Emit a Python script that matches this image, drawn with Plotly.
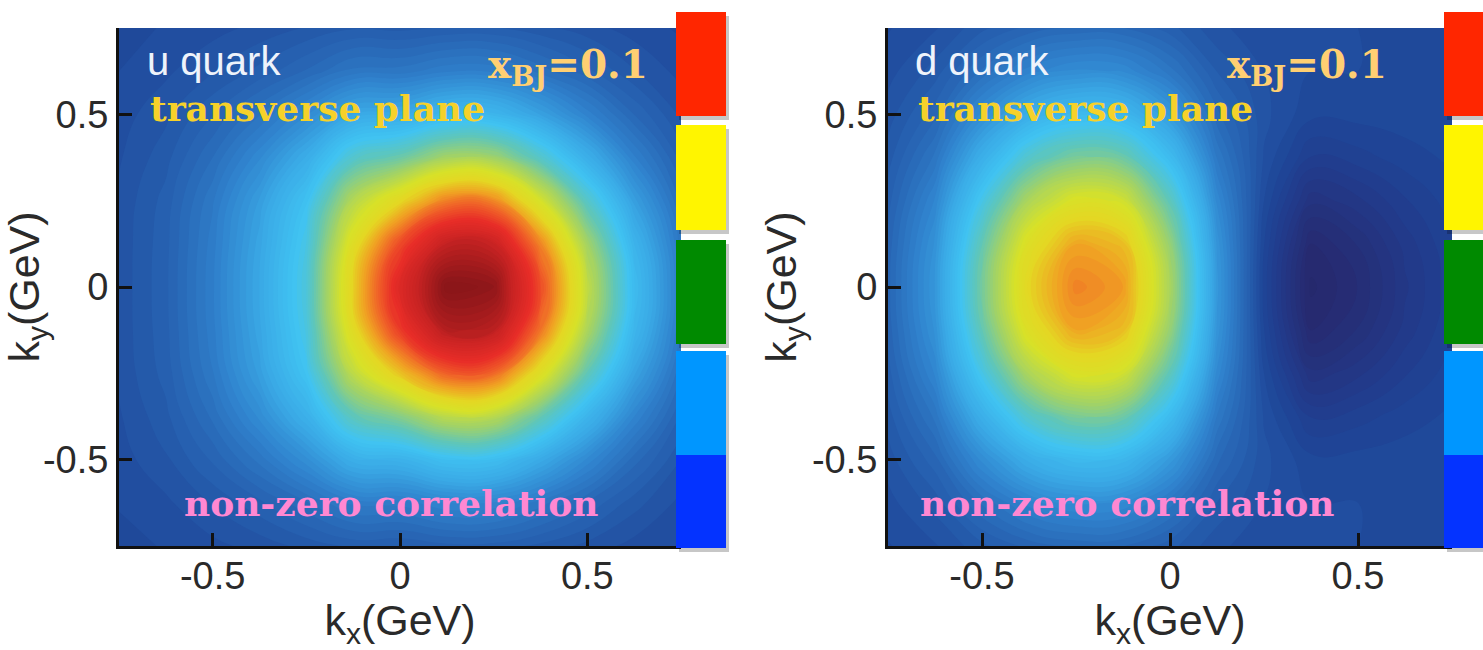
import plotly.graph_objects as go

W, H = 1483, 650

# grid coordinates (GeV)
KX = [-0.75, -0.625, -0.5, -0.375, -0.25, -0.125, 0.0, 0.125, 0.25, 0.375, 0.5, 0.625, 0.75]
KY = [-0.75, -0.625, -0.5, -0.375, -0.25, -0.125, 0.0, 0.125, 0.25, 0.375, 0.5, 0.625, 0.75]

# u quark density (rows: ky ascending, columns: kx ascending)
U_DENSITY = [
    [0.007, 0.012, 0.019, 0.027, 0.038, 0.048, 0.046, 0.053, 0.052, 0.042, 0.030, 0.018, 0.010],
    [0.012, 0.020, 0.035, 0.054, 0.078, 0.107, 0.108, 0.126, 0.124, 0.097, 0.067, 0.039, 0.019],
    [0.017, 0.032, 0.059, 0.096, 0.145, 0.214, 0.224, 0.265, 0.261, 0.202, 0.134, 0.074, 0.034],
    [0.021, 0.042, 0.083, 0.141, 0.220, 0.347, 0.398, 0.474, 0.468, 0.358, 0.232, 0.126, 0.055],
    [0.025, 0.050, 0.102, 0.177, 0.278, 0.477, 0.608, 0.729, 0.718, 0.547, 0.352, 0.187, 0.080],
    [0.026, 0.053, 0.110, 0.191, 0.302, 0.561, 0.779, 0.936, 0.922, 0.701, 0.448, 0.237, 0.099],
    [0.026, 0.054, 0.112, 0.196, 0.310, 0.590, 0.840, 1.010, 0.995, 0.756, 0.482, 0.254, 0.106],
    [0.026, 0.053, 0.109, 0.190, 0.299, 0.551, 0.758, 0.910, 0.897, 0.682, 0.436, 0.230, 0.097],
    [0.025, 0.050, 0.101, 0.174, 0.272, 0.461, 0.575, 0.689, 0.679, 0.518, 0.333, 0.178, 0.076],
    [0.021, 0.041, 0.080, 0.135, 0.209, 0.326, 0.367, 0.438, 0.431, 0.331, 0.215, 0.117, 0.052],
    [0.017, 0.031, 0.056, 0.090, 0.135, 0.195, 0.202, 0.239, 0.235, 0.182, 0.121, 0.068, 0.032],
    [0.011, 0.020, 0.033, 0.049, 0.070, 0.096, 0.097, 0.112, 0.111, 0.087, 0.060, 0.035, 0.018],
    [0.007, 0.012, 0.018, 0.026, 0.035, 0.044, 0.042, 0.047, 0.047, 0.037, 0.027, 0.017, 0.009],
]

# d quark density (rows: ky ascending, columns: kx ascending)
D_DENSITY = [
    [0.010, 0.021, 0.042, 0.061, 0.071, 0.069, 0.050, 0.025, 0.016, 0.013, 0.011, 0.008, 0.006],
    [0.018, 0.039, 0.082, 0.121, 0.141, 0.136, 0.097, 0.045, 0.022, 0.011, 0.011, 0.009, 0.007],
    [0.028, 0.064, 0.141, 0.212, 0.248, 0.238, 0.167, 0.072, 0.026, 0.003, 0.004, 0.006, 0.007],
    [0.040, 0.095, 0.216, 0.328, 0.385, 0.369, 0.255, 0.102, 0.021, -0.024, -0.017, -0.006, 0.002],
    [0.052, 0.128, 0.295, 0.451, 0.531, 0.508, 0.348, 0.134, 0.011, -0.066, -0.050, -0.025, -0.006],
    [0.061, 0.152, 0.355, 0.546, 0.643, 0.615, 0.418, 0.157, 0.000, -0.104, -0.080, -0.042, -0.013],
    [0.064, 0.161, 0.378, 0.582, 0.685, 0.655, 0.445, 0.165, -0.005, -0.119, -0.092, -0.049, -0.016],
    [0.061, 0.152, 0.355, 0.546, 0.643, 0.615, 0.418, 0.157, 0.000, -0.104, -0.080, -0.042, -0.013],
    [0.052, 0.128, 0.295, 0.451, 0.531, 0.508, 0.348, 0.134, 0.011, -0.066, -0.050, -0.025, -0.006],
    [0.040, 0.095, 0.216, 0.328, 0.385, 0.369, 0.255, 0.102, 0.021, -0.024, -0.017, -0.006, 0.002],
    [0.028, 0.064, 0.141, 0.212, 0.248, 0.238, 0.167, 0.072, 0.026, 0.003, 0.004, 0.006, 0.007],
    [0.018, 0.039, 0.082, 0.121, 0.141, 0.136, 0.097, 0.045, 0.022, 0.011, 0.011, 0.009, 0.007],
    [0.010, 0.021, 0.042, 0.061, 0.071, 0.069, 0.050, 0.025, 0.016, 0.013, 0.011, 0.008, 0.006],
]

TICK_VALS = [-0.5, 0, 0.5]
TICK_TEXT = ["-0.5", "0", "0.5"]
PANEL_LABELS = ["u quark", "d quark"]
XBJ_LABEL = "x<sub>BJ</sub>=0.1"
PLANE_LABEL = "transverse plane"
CORR_LABEL = "non-zero correlation"
BLOCK_COLORS = ["#FF2600", "#FFF500", "#008A00", "#0096FF", "#0433FF"]

ZMIN, ZMAX = -0.15, 1.0
COLOR_STOPS = [
    (-0.15, "rgb(36,36,100)"),
    (-0.10, "rgb(38,44,115)"),
    (-0.04, "rgb(34,58,138)"),
    (0.00, "rgb(30,70,152)"),
    (0.05, "rgb(38,95,175)"),
    (0.12, "rgb(48,130,205)"),
    (0.20, "rgb(58,170,230)"),
    (0.28, "rgb(64,195,242)"),
    (0.35, "rgb(95,198,185)"),
    (0.43, "rgb(160,210,105)"),
    (0.52, "rgb(215,225,40)"),
    (0.58, "rgb(228,215,35)"),
    (0.65, "rgb(240,160,35)"),
    (0.72, "rgb(240,100,40)"),
    (0.80, "rgb(232,45,40)"),
    (0.90, "rgb(200,35,35)"),
    (1.00, "rgb(140,22,25)"),
]
colorscale = [[(v - ZMIN) / (ZMAX - ZMIN), c] for v, c in COLOR_STOPS]


def px_x(p):
    return p / W


def px_y(p):
    return 1 - p / H


def density_trace(z, xa, ya):
    return go.Contour(x=KX, y=KY, z=z, zmin=ZMIN, zmax=ZMAX, colorscale=colorscale,
                      contours=dict(coloring="fill", start=ZMIN, end=ZMAX, size=0.0115),
                      line=dict(width=0, smoothing=1.3), showscale=False,
                      xaxis=xa, yaxis=ya, hoverinfo="skip")


fig = go.Figure()
fig.add_trace(density_trace(U_DENSITY, "x", "y"))
fig.add_trace(density_trace(D_DENSITY, "x2", "y2"))

tickfont = dict(family="Liberation Sans, Arial, sans-serif", size=38, color="#2a2a2a")
titlefont = dict(family="Liberation Sans, Arial, sans-serif", size=43, color="#2a2a2a")
axis_common = dict(range=[-0.75, 0.75], tickvals=TICK_VALS, ticktext=TICK_TEXT, ticks="inside",
                   ticklen=13, tickwidth=3, tickcolor="#111", showline=True, linecolor="#111",
                   linewidth=3, showgrid=False, zeroline=False, tickfont=tickfont, mirror=False)

dom_y = [px_y(546), px_y(28)]
fig.update_layout(
    width=W, height=H, margin=dict(l=0, r=0, t=0, b=0),
    paper_bgcolor="white", plot_bgcolor="white", showlegend=False,
    xaxis=dict(domain=[px_x(119), px_x(681)], anchor="y", ticklabelstandoff=-6,
               title=dict(text="k<sub>x</sub>(GeV)", font=titlefont, standoff=14), **axis_common),
    yaxis=dict(domain=dom_y, anchor="x",
               title=dict(text="k<sub>y</sub>(GeV)", font=titlefont, standoff=2), **axis_common),
    xaxis2=dict(domain=[px_x(888), px_x(1452)], anchor="y2", ticklabelstandoff=-6,
                title=dict(text="k<sub>x</sub>(GeV)", font=titlefont, standoff=14), **axis_common),
    yaxis2=dict(domain=dom_y, anchor="x2",
                title=dict(text="k<sub>y</sub>(GeV)", font=titlefont, standoff=2), **axis_common),
)

# discrete colour legend blocks
block_rows = [(12, 116), (125, 230), (240, 344), (351, 455), (455, 548)]
for x0p in (676, 1444):
    for (t, b) in block_rows:
        fig.add_shape(type="rect", xref="paper", yref="paper",
                      x0=px_x(x0p + 3), x1=px_x(x0p + 53), y0=px_y(b + 4), y1=px_y(t + 4),
                      fillcolor="rgba(0,0,0,0.22)", line=dict(width=0))
    for (t, b), col in zip(block_rows, BLOCK_COLORS):
        fig.add_shape(type="rect", xref="paper", yref="paper",
                      x0=px_x(x0p), x1=px_x(x0p + 50), y0=px_y(b), y1=px_y(t),
                      fillcolor=col, line=dict(width=0))

slab = "DejaVu Serif, serif"
panels = [
    dict(label=PANEL_LABELS[0], lx=145, xr=650, px=148, cx=182),
    dict(label=PANEL_LABELS[1], lx=913, xr=1389, px=916, cx=918),
]
for p in panels:
    fig.add_annotation(xref="paper", yref="paper", x=px_x(p["lx"]), y=px_y(61), xanchor="left",
                       yanchor="middle", showarrow=False, text=p["label"],
                       font=dict(family="Liberation Sans, Arial, sans-serif", size=40, color="#eef3fb"))
    fig.add_annotation(xref="paper", yref="paper", x=px_x(p["xr"]), y=px_y(66), xanchor="right",
                       yanchor="middle", showarrow=False, text="<b>" + XBJ_LABEL + "</b>",
                       font=dict(family=slab, size=39, color="#FFCF72"))
    fig.add_annotation(xref="paper", yref="paper", x=px_x(p["px"]), y=px_y(108), xanchor="left",
                       yanchor="middle", showarrow=False, text="<b>" + PLANE_LABEL + "</b>",
                       font=dict(family=slab, size=36, color="#F6D12A"))
    fig.add_annotation(xref="paper", yref="paper", x=px_x(p["cx"]), y=px_y(503), xanchor="left",
                       yanchor="middle", showarrow=False, text="<b>" + CORR_LABEL + "</b>",
                       font=dict(family=slab, size=36, color="#FF88D2"))

fig.write_html("out.html", config={"displayModeBar": False},
               post_script="document.body.style.margin='0';")
